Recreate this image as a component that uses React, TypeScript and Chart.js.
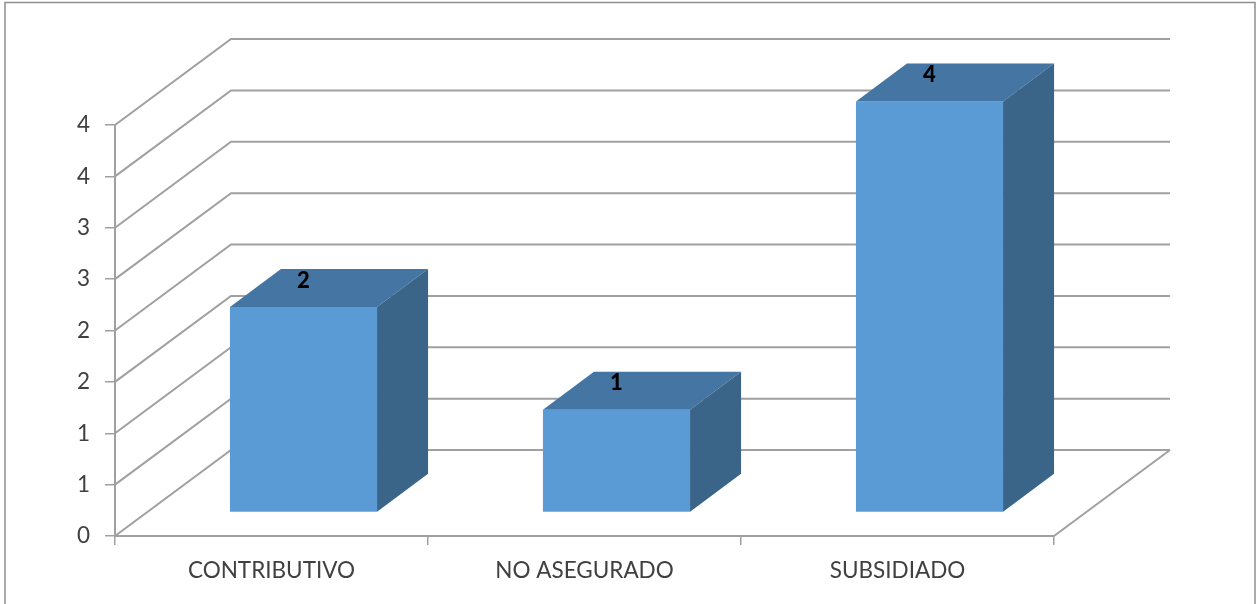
import React, { useEffect, useRef } from "react";
import { Chart, registerables } from "chart.js";

Chart.register(...registerables);

const categories = ["CONTRIBUTIVO", "NO ASEGURADO", "SUBSIDIADO"];
const values = [2, 1, 4];
const yMax = 4;
const yStep = 0.5;

const FONT = "Lato, 'Open Sans', sans-serif";
const GRID = "#a0a0a0";
const FRONT = "#5b9bd5";
const TOP = "#4575a2";
const SIDE = "#3a6488";
const WALL = { dx: 116, dy: -86 };
const BAR_OFFSET = { dx: 32, dy: -23.5 };
const BAR_DEPTH = { dx: 51, dy: -38 };

const scene = {
  id: "scene",
  beforeDraw(chart: any) {
    const { ctx, width, height } = chart;
    ctx.save();
    ctx.fillStyle = "#ffffff";
    ctx.fillRect(0, 0, width, height);
    ctx.strokeStyle = "#8f8f8f";
    ctx.lineWidth = 1.5;
    ctx.beginPath();
    ctx.moveTo(5, height);
    ctx.lineTo(5, 2.5);
    ctx.lineTo(width - 1, 2.5);
    ctx.lineTo(width - 1, height);
    ctx.stroke();
    ctx.restore();
  },
  beforeDatasetsDraw(chart: any) {
    const { ctx, chartArea, scales } = chart;
    ctx.save();
    ctx.strokeStyle = GRID;
    ctx.lineWidth = 2;
    ctx.lineJoin = "miter";
    for (const t of scales.y.ticks) {
      const y = scales.y.getPixelForValue(t.value);
      ctx.beginPath();
      ctx.moveTo(chartArea.left, y);
      ctx.lineTo(chartArea.left + WALL.dx, y + WALL.dy);
      ctx.lineTo(chartArea.right + WALL.dx, y + WALL.dy);
      ctx.stroke();
    }
    const y0 = scales.y.getPixelForValue(0);
    ctx.beginPath();
    ctx.moveTo(chartArea.right, y0);
    ctx.lineTo(chartArea.right + WALL.dx, y0 + WALL.dy);
    ctx.stroke();
    ctx.restore();
  },
  beforeDatasetDraw(chart: any) {
    chart.ctx.save();
    chart.ctx.translate(BAR_OFFSET.dx, BAR_OFFSET.dy);
  },
  afterDatasetDraw(chart: any, args: any) {
    const { ctx } = chart;
    const meta = chart.getDatasetMeta(args.index);
    for (const el of meta.data) {
      const { x, y, base, width } = el.getProps(["x", "y", "base", "width"], true);
      const l = x - width / 2;
      const r = x + width / 2;
      ctx.fillStyle = TOP;
      ctx.beginPath();
      ctx.moveTo(l, y);
      ctx.lineTo(l + BAR_DEPTH.dx, y + BAR_DEPTH.dy);
      ctx.lineTo(r + BAR_DEPTH.dx, y + BAR_DEPTH.dy);
      ctx.lineTo(r, y);
      ctx.closePath();
      ctx.fill();
      ctx.fillStyle = SIDE;
      ctx.beginPath();
      ctx.moveTo(r, y);
      ctx.lineTo(r + BAR_DEPTH.dx, y + BAR_DEPTH.dy);
      ctx.lineTo(r + BAR_DEPTH.dx, base + BAR_DEPTH.dy);
      ctx.lineTo(r, base);
      ctx.closePath();
      ctx.fill();
    }
    ctx.restore();
  },
  afterDatasetsDraw(chart: any) {
    const { ctx } = chart;
    const meta = chart.getDatasetMeta(0);
    ctx.save();
    ctx.fillStyle = "#000000";
    ctx.font = `900 22px ${FONT}`;
    ctx.textAlign = "center";
    ctx.textBaseline = "middle";
    meta.data.forEach((el: any, i: number) => {
      ctx.fillText(String(values[i]), el.x + BAR_OFFSET.dx, el.y + BAR_OFFSET.dy - 26.5);
    });
    ctx.restore();
  },
};

export default function App() {
  const ref = useRef<HTMLCanvasElement | null>(null);
  useEffect(() => {
    const chart = new Chart(ref.current as HTMLCanvasElement, {
      type: "bar",
      data: {
        labels: categories,
        datasets: [
          {
            data: values,
            backgroundColor: FRONT,
            borderWidth: 0,
            categoryPercentage: 1,
            barPercentage: 0.47,
            clip: false,
          } as any,
        ],
      },
      options: {
        responsive: false,
        devicePixelRatio: 1,
        animation: false,
        layout: { padding: { top: 125, right: 202, left: 0, bottom: 0 } },
        plugins: { legend: { display: false }, title: { display: false }, tooltip: { enabled: false } },
        scales: {
          x: {
            afterFit: (s: any) => {
              s.height = 68;
            },
            border: { color: GRID, width: 2 },
            grid: { color: GRID, lineWidth: 1.5, drawOnChartArea: false, tickLength: 9, offset: true },
            ticks: { color: "#404040", font: { family: FONT, size: 22.5 }, padding: 12, maxRotation: 0 },
          },
          y: {
            min: 0,
            max: yMax,
            afterFit: (s: any) => {
              s.width = 115;
            },
            border: { color: GRID, width: 2 },
            grid: { color: GRID, lineWidth: 1.5, drawOnChartArea: false, tickLength: 10 },
            ticks: {
              stepSize: yStep,
              color: "#404040",
              font: { family: FONT, size: 22.5 },
              padding: 15,
              callback: (v: any) => Math.round(Number(v)),
            },
          },
        },
      },
      plugins: [scene],
    } as any);
    return () => chart.destroy();
  }, []);
  return (
    <canvas
      ref={ref}
      width={1256}
      height={604}
      style={{ position: "fixed", left: 0, top: 0, width: 1256, height: 604, display: "block" }}
    />
  );
}
